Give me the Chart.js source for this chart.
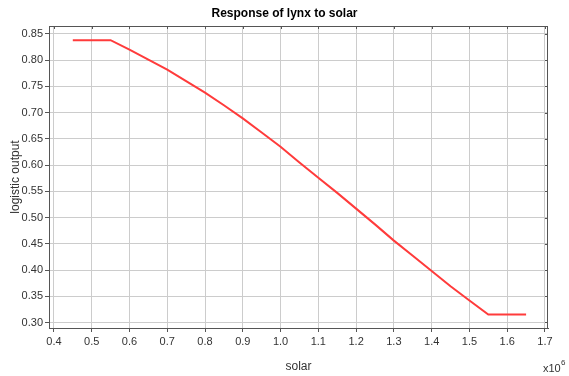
<!DOCTYPE html>
<html>
<head>
<meta charset="utf-8">
<title>Response of lynx to solar</title>
<script src="https://cdn.jsdelivr.net/npm/chart.js@4/dist/chart.umd.min.js"></script>
<style>
  html, body { margin: 0; padding: 0; background: #ffffff; }
  #c { display: block; }
</style>
</head>
<body>
<canvas id="c" width="569" height="376"></canvas>
<script>
// Solar input (units of 10^6) and the model's logistic output
const solar = [0.45, 0.55, 0.60, 0.65, 0.70, 0.75, 0.80, 0.85, 0.90, 0.95, 1.00, 1.05, 1.10,
               1.15, 1.20, 1.25, 1.30, 1.35, 1.40, 1.45, 1.50, 1.55, 1.65];
const logisticOutput = [0.838, 0.838, 0.820, 0.801, 0.782, 0.760, 0.738, 0.714, 0.689, 0.662, 0.635, 0.605, 0.576,
                        0.547, 0.517, 0.487, 0.456, 0.427, 0.398, 0.369, 0.342, 0.315, 0.315];

// Axis tick labels
const xTickValues = [0.4, 0.5, 0.6, 0.7, 0.8, 0.9, 1.0, 1.1, 1.2, 1.3, 1.4, 1.5, 1.6, 1.7];
const yTickValues = [0.30, 0.35, 0.40, 0.45, 0.50, 0.55, 0.60, 0.65, 0.70, 0.75, 0.80, 0.85];

const FONT = "'Liberation Sans', Arial, sans-serif";
const AXIS_COLOR = '#555555';
const GRID_COLOR = '#cccccc';
const TEXT_COLOR = '#333333';

// Chart title, closing frame edges (top/right) with inward ticks, and the x10^6 multiplier
const framePlugin = {
  id: 'frame',
  afterDraw(chart) {
    const { ctx, chartArea: a, scales } = chart;
    ctx.save();
    ctx.strokeStyle = AXIS_COLOR;
    ctx.lineWidth = 1;
    ctx.beginPath();
    ctx.moveTo(a.left, a.top + 0.5);
    ctx.lineTo(a.right, a.top + 0.5);
    ctx.moveTo(a.right - 0.5, a.top);
    ctx.lineTo(a.right - 0.5, a.bottom);
    scales.x.ticks.forEach(t => {
      const px = Math.round(scales.x.getPixelForValue(t.value)) + 0.5;
      ctx.moveTo(px, a.top);
      ctx.lineTo(px, a.top + 3);
    });
    scales.y.ticks.forEach(t => {
      const py = Math.round(scales.y.getPixelForValue(t.value)) + 0.5;
      ctx.moveTo(a.right, py);
      ctx.lineTo(a.right - 3, py);
    });
    ctx.stroke();

    ctx.fillStyle = '#000000';
    ctx.textAlign = 'center';
    ctx.textBaseline = 'alphabetic';
    ctx.font = 'bold 12px ' + FONT;
    ctx.fillText('Response of lynx to solar', chart.width / 2, 17);

    ctx.fillStyle = TEXT_COLOR;
    ctx.textAlign = 'left';
    ctx.font = '11px ' + FONT;
    ctx.fillText('x10', 543, 372);
    ctx.font = '8px ' + FONT;
    ctx.fillText('6', 561, 365);
    ctx.restore();
  }
};

new Chart(document.getElementById('c'), {
  type: 'line',
  data: {
    datasets: [{
      data: solar.map((x, i) => ({ x: x, y: logisticOutput[i] })),
      borderColor: '#ff3b3b',
      borderWidth: 2,
      pointRadius: 0,
      tension: 0,
      fill: false
    }]
  },
  options: {
    responsive: false,
    animation: false,
    devicePixelRatio: 1,
    layout: { padding: { left: 0, right: 21, top: 26, bottom: 0 } },
    plugins: {
      legend: { display: false },
      tooltip: { enabled: false },
      title: { display: false }
    },
    scales: {
      x: {
        type: 'linear',
        min: 0.387,
        max: 1.708,
        afterBuildTicks: s => { s.ticks = xTickValues.map(v => ({ value: v })); },
        afterFit: s => { s.height = 48; },
        ticks: {
          color: TEXT_COLOR,
          font: { family: FONT, size: 11 },
          padding: 3,
          maxRotation: 0,
          autoSkip: false,
          callback: v => Number(v).toFixed(1)
        },
        grid: { color: GRID_COLOR, tickColor: AXIS_COLOR, tickLength: 4, lineWidth: 1 },
        border: { display: true, color: AXIS_COLOR, width: 1 },
        title: {
          display: true,
          text: 'solar',
          color: TEXT_COLOR,
          font: { family: FONT, size: 12, lineHeight: 1.2 },
          padding: { top: 0, bottom: 1.8 }
        }
      },
      y: {
        type: 'linear',
        min: 0.2895,
        max: 0.865,
        afterBuildTicks: s => { s.ticks = yTickValues.map(v => ({ value: v })); },
        afterFit: s => { s.width = 49; },
        ticks: {
          color: TEXT_COLOR,
          font: { family: FONT, size: 11 },
          padding: 2,
          autoSkip: false,
          callback: v => Number(v).toFixed(2)
        },
        grid: { color: GRID_COLOR, tickColor: AXIS_COLOR, tickLength: 4, lineWidth: 1 },
        border: { display: true, color: AXIS_COLOR, width: 1 },
        title: {
          display: true,
          text: 'logistic output',
          color: TEXT_COLOR,
          font: { family: FONT, size: 12, lineHeight: 1.2 },
          padding: { top: 8.8, bottom: 0 }
        }
      }
    }
  },
  plugins: [framePlugin]
});
</script>
</body>
</html>
